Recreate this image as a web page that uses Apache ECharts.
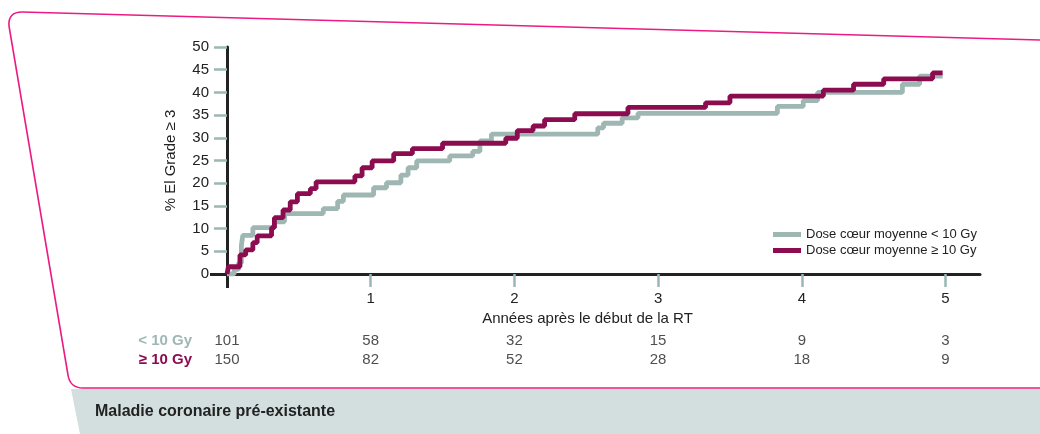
<!DOCTYPE html>
<html>
<head>
<meta charset="utf-8">
<script src="https://cdn.jsdelivr.net/npm/echarts@6/dist/echarts.min.js"></script>
<style>html,body{margin:0;padding:0;background:#fff}#c{width:1040px;height:434px}</style>
</head>
<body>
<div id="c"></div>
<script>
// Step curves: [time in years, cumulative % after the step]
const lowDose = [[0,0],[0.05,1.0],[0.08,2.4],[0.10,6.3],[0.11,8.5],[0.18,10.2],[0.33,11.5],[0.40,13.3],[0.67,14.4],[0.77,16.0],[0.81,17.4],[1.02,19.0],[1.11,20.1],[1.21,21.8],[1.26,23.4],[1.32,24.9],[1.55,26.0],[1.71,27.0],[1.76,29.3],[1.84,30.8],[2.58,32.2],[2.62,33.2],[2.75,34.4],[2.86,35.4],[3.83,36.9],[4.01,38.2],[4.11,40.0],[4.70,41.8],[4.82,43.6],[4.98,43.6]];
const highDose = [[0,0],[0.01,1.6],[0.09,4.2],[0.13,5.3],[0.18,6.9],[0.21,8.4],[0.31,10.2],[0.33,12.4],[0.39,14.1],[0.44,15.9],[0.49,17.7],[0.58,18.8],[0.62,20.3],[0.89,21.6],[0.94,23.4],[1.01,24.9],[1.16,26.5],[1.29,27.6],[1.50,28.8],[1.94,29.9],[2.02,31.6],[2.13,32.6],[2.21,34.0],[2.42,35.3],[2.79,36.7],[3.33,37.7],[3.50,39.2],[4.15,40.5],[4.36,41.8],[4.57,43.0],[4.91,44.3],[4.98,44.3]];
const seriesNames = ['Dose cœur moyenne < 10 Gy', 'Dose cœur moyenne ≥ 10 Gy'];
const xTickLabels = [1, 2, 3, 4, 5];
const yTickLabels = [0, 5, 10, 15, 20, 25, 30, 35, 40, 45, 50];
const riskTimes = [0, 1, 2, 3, 4, 5];
const groupLabels = ['< 10 Gy', '≥ 10 Gy'];
const riskLow = [101, 58, 32, 15, 9, 3];
const riskHigh = [150, 82, 52, 28, 18, 9];

const GRAY = '#9fb7b3', MAROON = '#8c0c50', TEAL = '#9bb8b4', INK = '#222', PINK = '#ec1a82';
const FONT = 'Liberation Sans, Arial, sans-serif';
const XMAX = 5.24;

const frameStyle = {stroke: PINK, lineWidth: 1.6, fill: null};
const chart = echarts.init(document.getElementById('c'), null, {renderer: 'canvas'});
chart.setOption({
  animation: false,
  backgroundColor: '#fff',
  textStyle: {fontFamily: FONT},
  graphic: [
    {type: 'polygon', z: -10, shape: {points: [[71,389],[1040,389],[1040,434],[80,434]]}, style: {fill: '#d3dfdf'}},
    {type: 'polyline', z: -5, shape: {points: [[1045,40.1],[22,12]]}, style: frameStyle},
    {type: 'bezierCurve', z: -5, shape: {x1: 22, y1: 12, cpx1: 8, cpy1: 12, x2: 9, y2: 26}, style: frameStyle},
    {type: 'polyline', z: -5, shape: {points: [[9,26],[68,375]]}, style: frameStyle},
    {type: 'bezierCurve', z: -5, shape: {x1: 68, y1: 375, cpx1: 70, cpy1: 388, x2: 83, y2: 388}, style: frameStyle},
    {type: 'polyline', z: -5, shape: {points: [[83,388],[1045,388]]}, style: frameStyle},
    {type: 'text', left: 95, top: 404, style: {text: 'Maladie coronaire pré-existante', font: 'bold 16px ' + FONT, fill: INK}}
  ],
  legend: {
    data: seriesNames, orient: 'vertical', left: 773, top: 228, itemWidth: 28, itemHeight: 5, itemGap: 3,
    icon: 'rect', padding: 0, textStyle: {fontSize: 13, color: INK, fontFamily: FONT}
  },
  grid: [
    {left: 227, top: 47, width: 753, height: 227, containLabel: false},
    {left: 227, top: 331.5, width: 753, height: 38, containLabel: false}
  ],
  xAxis: [
    {gridIndex: 0, type: 'value', min: 0, max: XMAX, position: 'bottom',
     name: 'Années après le début de la RT', nameLocation: 'middle', nameGap: 34,
     nameTextStyle: {fontSize: 15, color: INK, padding: [0, 32, 0, 0]},
     axisLine: {show: true, lineStyle: {color: INK, width: 3}},
     axisTick: {show: true, customValues: xTickLabels, length: 13, lineStyle: {color: TEAL, width: 2.5}},
     axisLabel: {show: true, customValues: xTickLabels, margin: 17, fontSize: 15, color: INK},
     splitLine: {show: false}},
    {gridIndex: 0, type: 'value', min: 0, max: XMAX, position: 'bottom',
     axisLine: {show: false}, axisLabel: {show: false}, splitLine: {show: false},
     axisTick: {show: true, customValues: [0], length: 14, lineStyle: {color: INK, width: 3}}},
    {gridIndex: 1, type: 'value', min: 0, max: XMAX, show: false}
  ],
  yAxis: [
    {gridIndex: 0, type: 'value', min: 0, max: 50, interval: 5, position: 'left',
     name: '% El Grade ≥ 3', nameLocation: 'middle', nameGap: 49, nameRotate: 90,
     nameTextStyle: {fontSize: 15, color: INK},
     axisLine: {show: true, lineStyle: {color: INK, width: 3}},
     axisTick: {show: true, customValues: yTickLabels.slice(1), length: 13, lineStyle: {color: TEAL, width: 2.5}},
     axisLabel: {show: true, customValues: yTickLabels, margin: 18, fontSize: 15, color: INK},
     splitLine: {show: false}},
    {gridIndex: 0, type: 'value', min: 0, max: 50, position: 'left',
     axisLine: {show: false}, axisLabel: {show: false}, splitLine: {show: false},
     axisTick: {show: true, customValues: [0], length: 17, lineStyle: {color: INK, width: 3}}},
    {gridIndex: 1, type: 'category', data: groupLabels, inverse: true, position: 'left',
     axisLine: {show: false}, axisTick: {show: false}, splitLine: {show: false},
     axisLabel: {show: true, interval: 0, margin: 35, fontSize: 15, fontWeight: 'bold',
       color: (v, i) => (i === 0 ? GRAY : MAROON)}}
  ],
  series: [
    {name: seriesNames[0], type: 'line', step: 'end', xAxisIndex: 0, yAxisIndex: 0, data: lowDose,
     showSymbol: false, symbol: 'none', color: GRAY, lineStyle: {color: GRAY, width: 4.8}, z: 2},
    {name: seriesNames[1], type: 'line', step: 'end', xAxisIndex: 0, yAxisIndex: 0, data: highDose,
     showSymbol: false, symbol: 'none', color: MAROON, lineStyle: {color: MAROON, width: 4.8}, z: 3},
    {name: 'risk', type: 'scatter', xAxisIndex: 2, yAxisIndex: 2, symbolSize: 1,
     itemStyle: {color: 'rgba(0,0,0,0)'},
     data: riskTimes.map((t, i) => [t, 0, riskLow[i]]).concat(riskTimes.map((t, i) => [t, 1, riskHigh[i]])),
     label: {show: true, position: 'inside', formatter: p => String(p.value[2]), fontSize: 15, color: INK}}
  ]
});
</script>
</body>
</html>
